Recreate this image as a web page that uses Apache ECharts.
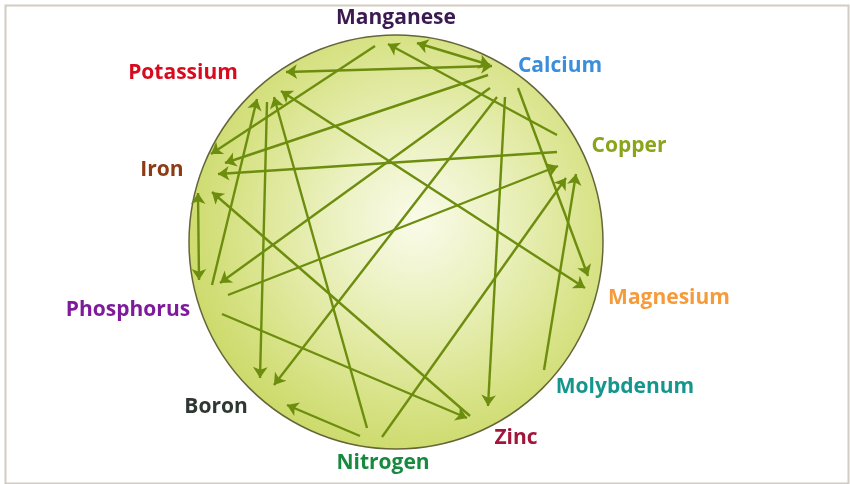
<!DOCTYPE html>
<html>
<head>
<meta charset="utf-8">
<script src="https://cdn.jsdelivr.net/npm/echarts@6/dist/echarts.min.js"></script>
<style>
html,body{margin:0;padding:0;background:#fff;}
#chart{width:850px;height:484px;}
</style>
</head>
<body>
<div id="chart"></div>
<script>
// Nutrient names and label anchor points (chart coordinates)
const nutrients = ['Manganese','Calcium','Copper','Magnesium','Molybdenum','Zinc','Nitrogen','Boron','Phosphorus','Iron','Potassium'];
const labelX = [396, 560, 629, 669, 625, 516, 383, 216, 128, 162, 183];
const labelY = [18, 66, 146, 298, 387, 438, 463, 407, 310, 170, 73];
const labelColors = ['#3b1a52','#3a8edb','#8aa51c','#f59b3b','#15968d','#a3163c','#188a40','#2e3833','#7d1b9b','#8c3b14','#d80b1e'];

// The wheel (center and radius in chart units)
const wheel = [396, 242, 207];

// One-way antagonisms: [fromX, fromY, toX, toY]  (arrow at "to")
const oneWay = [
  [557,135, 388,44],   // Copper -> Manganese
  [375,46, 211,154],   // Manganese -> Iron
  [488,75, 225,163],   // Calcium -> Iron
  [557,152, 218,174],  // Copper -> Iron
  [490,88, 220,283],   // Calcium -> Phosphorus
  [497,97, 274,385],   // Calcium -> Boron
  [518,88, 588,276],   // Calcium -> Magnesium
  [505,97, 488,406],   // Calcium -> Zinc
  [228,295, 558,166],  // Phosphorus -> Copper
  [382,437, 566,178],  // Nitrogen -> Copper
  [544,370, 576,174],  // Molybdenum -> Copper
  [470,416, 212,192],  // Zinc -> Iron
  [222,314, 467,418],  // Phosphorus -> Zinc
  [212,285, 257,99],   // Phosphorus -> Potassium
  [267,102, 260,378],  // Potassium -> Boron
  [367,428, 274,97],   // Nitrogen -> Potassium
  [360,436, 287,405]   // Nitrogen -> Boron
];
// Mutual antagonisms (arrows at both ends)
const twoWay = [
  [286,72, 492,66],    // Potassium <-> Calcium
  [417,43, 490,65],    // Manganese <-> Calcium
  [281,91, 585,288],   // Potassium <-> Magnesium
  [198,193, 199,280]   // Iron <-> Phosphorus
];

const arrowColor = '#6c8d0e';

const chart = echarts.init(document.getElementById('chart'), null, {renderer:'canvas'});
const toLines = arr => arr.map(a => ({coords: [[a[0], a[1]], [a[2], a[3]]]}));

chart.setOption({
  animation: false,
  backgroundColor: '#ffffff',
  grid: {left: 0, right: 0, top: 0, bottom: 0},
  xAxis: {type: 'value', min: 0, max: 850, show: false},
  yAxis: {type: 'value', min: 0, max: 484, inverse: true, show: false},
  graphic: [{
    type: 'rect', left: 3, top: 3, z: -10,
    shape: {width: 843, height: 478},
    style: {fill: 'none', stroke: '#d2ccc4', lineWidth: 2}
  }],
  series: [
    {
      type: 'scatter',
      z: 1,
      symbol: 'circle',
      symbolSize: wheel[2] * 2,
      data: [[wheel[0], wheel[1]]],
      itemStyle: {
        color: {
          type: 'radial', x: 0.55, y: 0.45, r: 0.62,
          colorStops: [
            {offset: 0, color: '#fafbea'},
            {offset: 0.3, color: '#edf2c4'},
            {offset: 0.7, color: '#d8e388'},
            {offset: 1, color: '#c8d760'}
          ]
        },
        borderColor: '#66653a',
        borderWidth: 1.5,
        opacity: 1
      },
      silent: true
    },
    {
      type: 'lines',
      coordinateSystem: 'cartesian2d',
      z: 3,
      symbol: ['none', 'arrow'],
      symbolSize: 11,
      lineStyle: {color: arrowColor, width: 2.4, opacity: 1, curveness: 0},
      data: toLines(oneWay),
      silent: true
    },
    {
      type: 'lines',
      coordinateSystem: 'cartesian2d',
      z: 3,
      symbol: ['arrow', 'arrow'],
      symbolSize: 11,
      lineStyle: {color: arrowColor, width: 2.4, opacity: 1, curveness: 0},
      data: toLines(twoWay),
      silent: true
    },
    {
      type: 'scatter',
      z: 5,
      symbolSize: 0,
      silent: true,
      itemStyle: {opacity: 1},
      data: nutrients.map((n, i) => ({
        value: [labelX[i], labelY[i]],
        name: n,
        label: {color: labelColors[i]}
      })),
      label: {
        show: true,
        position: 'inside',
        formatter: p => p.name,
        fontFamily: 'Open Sans',
        fontWeight: 'bold',
        fontSize: 21,
        opacity: 1
      }
    }
  ]
});
</script>
</body>
</html>
